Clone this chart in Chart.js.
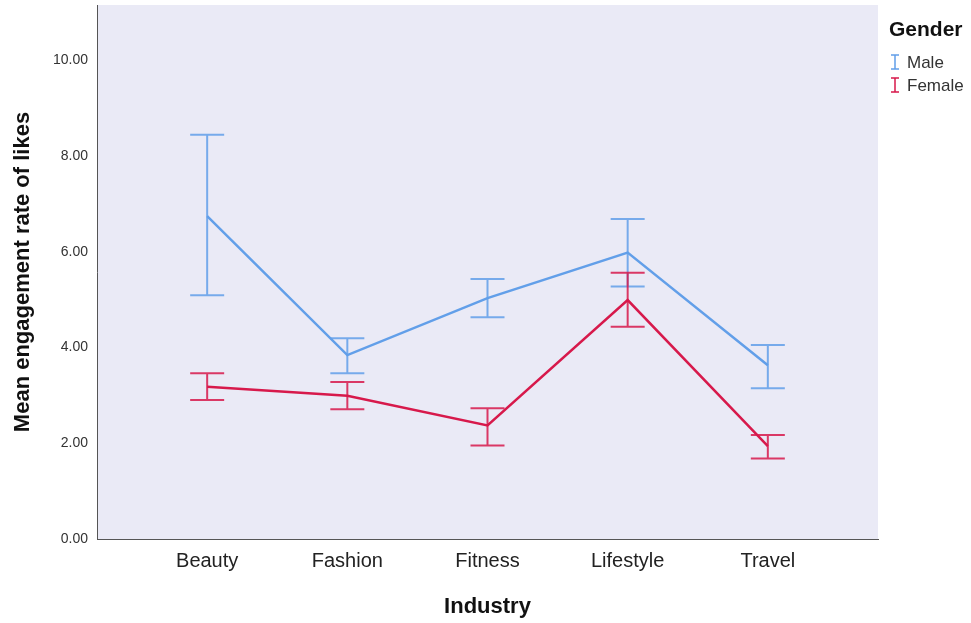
<!DOCTYPE html>
<html>
<head>
<meta charset="utf-8">
<title>Mean engagement rate of likes</title>
<script src="https://cdn.jsdelivr.net/npm/chart.js@4.4.1/dist/chart.umd.min.js"></script>
<style>
  html, body { margin: 0; padding: 0; background: #fff; }
  #wrap { width: 971px; height: 623px; }
</style>
</head>
<body>
<div id="wrap"><canvas id="likesChart" width="971" height="623"></canvas></div>
<script>

var industries = ['Beauty', 'Fashion', 'Fitness', 'Lifestyle', 'Travel'];
var yTicks = [0, 2, 4, 6, 8, 10];

// means and error bar ends
var maleMean = [6.74, 3.84, 5.03, 5.98, 3.63];
var maleLow  = [5.09, 3.46, 4.63, 5.27, 3.15];
var maleHigh = [8.44, 4.19, 5.43, 6.68, 4.05];

var femaleMean = [3.18, 2.99, 2.37, 4.99, 1.94];
var femaleLow  = [2.90, 2.71, 1.95, 4.43, 1.68];
var femaleHigh = [3.46, 3.28, 2.73, 5.56, 2.17];

var maleColor = '#629fe9';
var femaleColor = '#d7194b';

function points(arr) {
  var out = [];
  for (var i = 0; i < arr.length; i++) {
    out.push({ x: i, y: arr[i] });
  }
  return out;
}

// plot background
var plotBg = {
  id: 'plotBg',
  beforeDraw: function (chart) {
    var a = chart.chartArea;
    var ctx = chart.ctx;
    ctx.save();
    ctx.fillStyle = '#eaeaf6';
    ctx.fillRect(a.left, a.top, a.right - a.left, a.bottom - a.top);
    ctx.restore();
  }
};

// error bars drawn through the scales
var errorBars = {
  id: 'errorBars',
  afterDatasetsDraw: function (chart) {
    var ctx = chart.ctx;
    var xs = chart.scales.x;
    var ys = chart.scales.y;
    chart.data.datasets.forEach(function (ds) {
      ctx.save();
      ctx.strokeStyle = ds.borderColor;
      ctx.globalAlpha = 0.85;
      ctx.lineWidth = 2;
      for (var i = 0; i < ds.low.length; i++) {
        var x = xs.getPixelForValue(i);
        var y1 = ys.getPixelForValue(ds.low[i]);
        var y2 = ys.getPixelForValue(ds.high[i]);
        ctx.beginPath();
        ctx.moveTo(x, y1); ctx.lineTo(x, y2);
        ctx.moveTo(x - 17, y1); ctx.lineTo(x + 17, y1);
        ctx.moveTo(x - 17, y2); ctx.lineTo(x + 17, y2);
        ctx.stroke();
      }
      ctx.restore();
    });
  }
};

// legend at the right, SPSS style
var genderLegend = {
  id: 'genderLegend',
  afterDraw: function (chart) {
    var ctx = chart.ctx;
    ctx.save();
    ctx.fillStyle = '#111';
    ctx.textBaseline = 'middle';
    ctx.textAlign = 'left';
    ctx.font = 'bold 21px "Liberation Sans", Arial, sans-serif';
    ctx.fillText('Gender', 889, 30);
    ctx.font = '17px "Liberation Sans", Arial, sans-serif';
    chart.data.datasets.forEach(function (ds, i) {
      var y = 62 + i * 23;
      var x = 895;
      ctx.strokeStyle = ds.borderColor;
      ctx.lineWidth = 1.5;
      ctx.beginPath();
      ctx.moveTo(x, y - 7); ctx.lineTo(x, y + 7);
      ctx.moveTo(x - 4, y - 7); ctx.lineTo(x + 4, y - 7);
      ctx.moveTo(x - 4, y + 7); ctx.lineTo(x + 4, y + 7);
      ctx.stroke();
      ctx.fillStyle = '#333';
      ctx.fillText(ds.label, 907, y + 1);
    });
    ctx.restore();
  }
};

var ctx = document.getElementById('likesChart').getContext('2d');
var myChart = new Chart(ctx, {
  type: 'line',
  data: {
    datasets: [
      {
        label: 'Male',
        data: points(maleMean),
        low: maleLow,
        high: maleHigh,
        borderColor: maleColor,
        backgroundColor: maleColor,
        borderWidth: 2.5,
        pointRadius: 0,
        tension: 0
      },
      {
        label: 'Female',
        data: points(femaleMean),
        low: femaleLow,
        high: femaleHigh,
        borderColor: femaleColor,
        backgroundColor: femaleColor,
        borderWidth: 2.5,
        pointRadius: 0,
        tension: 0
      }
    ]
  },
  options: {
    responsive: false,
    animation: false,
    layout: { padding: { left: 0, right: 93, top: 5, bottom: 0 } },
    plugins: {
      legend: { display: false },
      tooltip: { enabled: false }
    },
    scales: {
      x: {
        type: 'linear',
        min: -0.786,
        max: 4.786,
        afterBuildTicks: function (scale) {
          scale.ticks = industries.map(function (n, i) { return { value: i }; });
        },
        afterFit: function (scale) { scale.height = 84; },
        grid: { display: false, drawTicks: false },
        border: { display: true, color: '#555', width: 1 },
        ticks: {
          padding: 10,
          color: '#222',
          font: { family: '"Liberation Sans", Arial, sans-serif', size: 20 },
          callback: function (v) { return industries[v]; }
        },
        title: {
          display: true,
          text: 'Industry',
          color: '#111',
          padding: { top: 0, bottom: 3 },
          font: { family: '"Liberation Sans", Arial, sans-serif', size: 22, weight: 'bold' }
        }
      },
      y: {
        min: 0,
        max: 11.15,
        afterBuildTicks: function (scale) {
          scale.ticks = yTicks.map(function (v) { return { value: v }; });
        },
        afterFit: function (scale) {
          scale.width = 97;
          scale.paddingTop = 0;
          scale.paddingBottom = 0;
        },
        grid: { display: false, drawTicks: false },
        border: { display: true, color: '#555', width: 1 },
        ticks: {
          padding: 9,
          color: '#333',
          font: { family: '"Liberation Sans", Arial, sans-serif', size: 14 },
          callback: function (v) { return Number(v).toFixed(2); }
        },
        title: {
          display: true,
          text: 'Mean engagement rate of likes',
          color: '#111',
          padding: { top: 10, bottom: 0 },
          font: { family: '"Liberation Sans", Arial, sans-serif', size: 22, weight: 'bold' }
        }
      }
    }
  },
  plugins: [plotBg, errorBars, genderLegend]
});

</script>
</body>
</html>
